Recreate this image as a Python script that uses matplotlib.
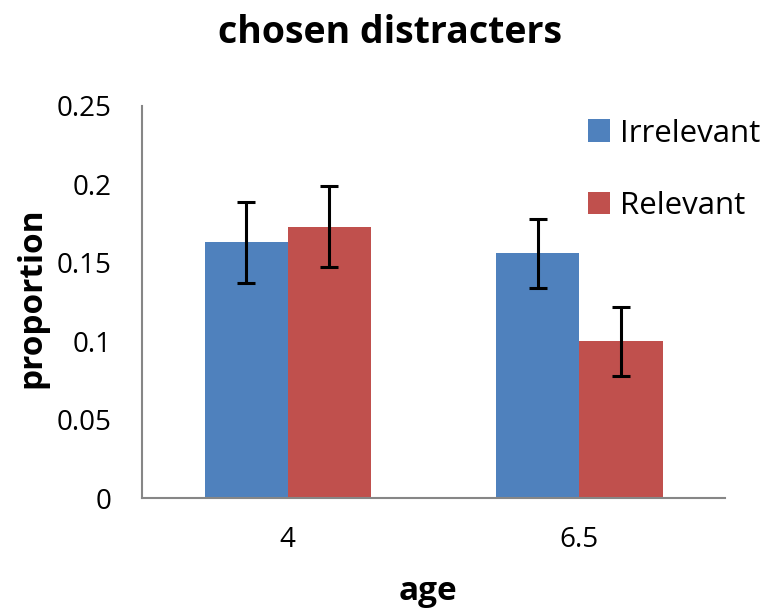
import numpy as np
import matplotlib
matplotlib.use("Agg")
import matplotlib.pyplot as plt

ages = ["4", "6.5"]
irrelevant = [0.163, 0.156]
irrelevant_err = [0.026, 0.022]
relevant = [0.173, 0.100]
relevant_err = [0.026, 0.022]

BLUE = "#4F81BD"
RED = "#C0504D"
AXIS_GRAY = "#868686"

plt.rcParams["font.family"] = ["Open Sans", "DejaVu Sans"]

fig = plt.figure(figsize=(7.69, 6.08), dpi=100)
ax = fig.add_axes([0.1847, 0.1809, 0.7581, 0.6448])

x = np.arange(len(ages))
w = 0.2857
err_kw = dict(ecolor="black", elinewidth=2.2, capsize=6.5, capthick=2.2)
ax.bar(x - w / 2, irrelevant, w, yerr=irrelevant_err, color=BLUE, label="Irrelevant", error_kw=err_kw)
ax.bar(x + w / 2, relevant, w, yerr=relevant_err, color=RED, label="Relevant", error_kw=err_kw)

ax.set_xlim(-0.5, 1.5)
ax.set_ylim(0, 0.25)
ax.set_yticks([0, 0.05, 0.1, 0.15, 0.2, 0.25])
ax.set_yticklabels(["0", "0.05", "0.1", "0.15", "0.2", "0.25"])
ax.set_xticks(x)
ax.set_xticklabels(ages)
ax.tick_params(axis="y", length=0, pad=22, labelsize=20)
ax.tick_params(axis="x", length=0, pad=20, labelsize=20)

for side in ["top", "right"]:
    ax.spines[side].set_visible(False)
for side in ["left", "bottom"]:
    ax.spines[side].set_color(AXIS_GRAY)
    ax.spines[side].set_linewidth(1.5)

fig.text(0.507, 0.945, "chosen distracters", ha="center", va="center", fontsize=27, fontweight="bold")
fig.text(0.041, 0.51, "proportion", ha="center", va="center", rotation=90, fontsize=24, fontweight="bold")
fig.text(0.557, 0.027, "age", ha="center", va="center", fontsize=24, fontweight="bold")

fig.legend(loc="upper left", bbox_to_anchor=(0.7646, 0.805), frameon=False, fontsize=22.5,
           handlelength=0.72, handleheight=0.72, handletextpad=0.3, labelspacing=1.35,
           borderaxespad=0, borderpad=0)

fig.savefig("out.png", dpi=100)
